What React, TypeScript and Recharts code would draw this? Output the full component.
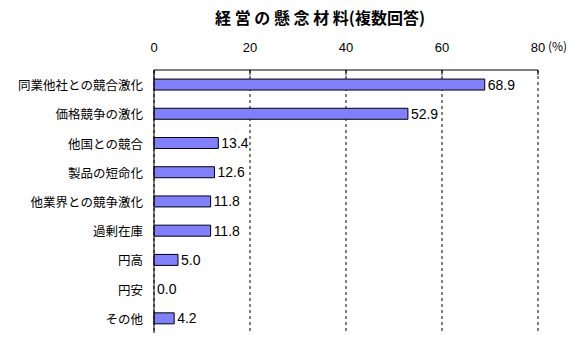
import React from 'react';
import { BarChart, Bar, XAxis, YAxis, CartesianGrid, LabelList, Rectangle } from 'recharts';

const CATEGORIES = [
  '同業他社との競合激化',
  '価格競争の激化',
  '他国との競合',
  '製品の短命化',
  '他業界との競争激化',
  '過剰在庫',
  '円高',
  '円安',
  'その他',
];

const VALUES = [68.9, 52.9, 13.4, 12.6, 11.8, 11.8, 5.0, 0.0, 4.2];

const X_TICKS = [0, 20, 40, 60, 80];

const TITLE = '経 営 の 懸 念 材 料(複数回答)';

const chartData = CATEGORIES.map((name, i) => ({ name, value: VALUES[i] }));

const NUM_FONT = '"Liberation Sans", Arial, sans-serif';
const JP_FONT = '"Noto Sans CJK JP", sans-serif';

const TopTick = (props: any) => {
  const { x, y, payload } = props;
  return (
    <g>
      <text x={x} y={y} textAnchor="middle" dominantBaseline="central" fontFamily={NUM_FONT} fontSize={13} fill="#000">
        {payload.value}
      </text>
      <line x1={x} x2={x} y1={y + 23} y2={y + 28} stroke="#000" />
      {payload.value === 80 && (
        <text x={x + 10} y={y - 2} dominantBaseline="central" fontFamily={JP_FONT} fontSize={12} fill="#000">
          (%)
        </text>
      )}
    </g>
  );
};

const CatTick = (props: any) => {
  const { x, y, payload } = props;
  return (
    <text x={x} y={y} textAnchor="end" dominantBaseline="central" fontFamily={JP_FONT} fontSize={12.5} fill="#000">
      {payload.value}
    </text>
  );
};

// zero-value bars are kept (minPointSize) so their label shows, but not drawn
const BarShape = (props: any) => {
  const v = props.payload ? props.payload.value : props.value;
  if (!v) return null;
  return <Rectangle {...props} />;
};

const ValueLabel = (props: any) => {
  const { x, y, width, height, value } = props;
  if (value === undefined || value === null) return null;
  const w = Number(value) > 0 ? Number(width || 0) : 0;
  return (
    <text
      x={Number(x) + w + 3}
      y={Number(y) + Number(height) / 2}
      dominantBaseline="central"
      fontFamily={NUM_FONT}
      fontSize={14}
      fill="#000"
    >
      {Number(value).toFixed(1)}
    </text>
  );
};

export default function App() {
  return (
    <div style={{ position: 'absolute', left: 0, top: 0, width: 588, height: 348, background: '#fff' }}>
      <div
        style={{
          position: 'absolute',
          left: 0,
          width: 640,
          top: 5,
          textAlign: 'center',
          fontFamily: JP_FONT,
          fontWeight: 'bold',
          fontSize: 16,
          whiteSpace: 'pre',
        }}
      >
        {TITLE}
      </div>
      <BarChart
        width={588}
        height={348}
        data={chartData}
        layout="vertical"
        margin={{ top: 40, right: 50, bottom: 15, left: 0 }}
        barCategoryGap="31%"
      >
        <CartesianGrid horizontal={false} stroke="#000" strokeDasharray="3 3" />
        <XAxis
          type="number"
          orientation="top"
          domain={[0, 80]}
          ticks={X_TICKS}
          height={30}
          axisLine={{ stroke: '#000' }}
          tickLine={false}
          tickSize={0}
          tickMargin={23}
          tick={<TopTick />}
          interval={0}
        />
        <YAxis
          type="category"
          dataKey="name"
          width={154}
          axisLine={{ stroke: '#000' }}
          tickLine={false}
          tickSize={0}
          tickMargin={11}
          tick={<CatTick />}
          interval={0}
        />
        <Bar
          dataKey="value"
          fill="#8080FF"
          stroke="#000"
          strokeWidth={1}
          minPointSize={1}
          shape={<BarShape />}
          isAnimationActive={false}
        >
          <LabelList dataKey="value" content={<ValueLabel />} />
        </Bar>
      </BarChart>
    </div>
  );
}
